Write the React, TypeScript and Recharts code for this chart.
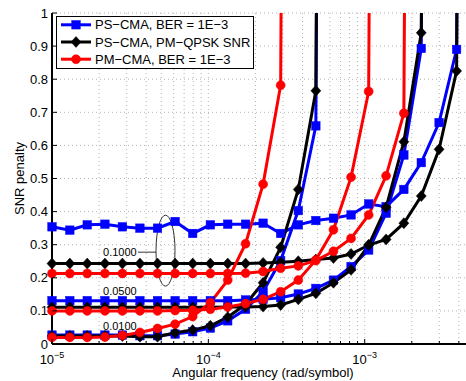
import React from 'react';
import { LineChart, Line, XAxis, YAxis, CartesianGrid, Legend, ReferenceDot } from 'recharts';

const FONT = '"Liberation Sans", Arial, Helvetica, sans-serif';

// angular frequency (rad/symbol)
const freq = [
  1.0e-5, 1.3e-5, 1.68e-5, 2.18e-5, 2.82e-5, 3.65e-5, 4.73e-5, 6.13e-5, 7.94e-5,
  1.03e-4, 1.33e-4, 1.73e-4, 2.24e-4, 2.9e-4, 3.76e-4, 4.87e-4, 6.31e-4, 8.18e-4,
  1.06e-3, 1.37e-3, 1.78e-3, 2.3e-3, 2.99e-3, 3.87e-3, 5.0e-3,
];

const OFF = 10; // penalty beyond the plotted range

// tolerance 0.0100
const psBer001 = [0.027, 0.027, 0.027, 0.027, 0.027, 0.025, 0.025, 0.030, 0.037, 0.048, 0.070, 0.105, 0.158, 0.252, 0.403, 0.659, OFF];
const psSnr001 = [0.024, 0.024, 0.024, 0.024, 0.024, 0.022, 0.022, 0.034, 0.042, 0.055, 0.081, 0.120, 0.185, 0.292, 0.467, 0.765, OFF];
const pmBer001 = [0.020, 0.020, 0.020, 0.021, 0.026, 0.035, 0.047, 0.060, 0.083, 0.125, 0.193, 0.303, 0.483, 0.782, OFF];
// tolerance 0.0500
const psBer005 = [0.131, 0.131, 0.131, 0.131, 0.131, 0.131, 0.131, 0.131, 0.131, 0.131, 0.131, 0.133, 0.135, 0.140, 0.151, 0.168, 0.193, 0.234, 0.284, 0.395, 0.571, 0.893, OFF];
const psSnr005 = [0.111, 0.111, 0.111, 0.111, 0.111, 0.111, 0.111, 0.111, 0.111, 0.111, 0.112, 0.112, 0.113, 0.118, 0.135, 0.153, 0.185, 0.224, 0.299, 0.413, 0.611, 0.940, OFF];
const pmBer005 = [0.100, 0.100, 0.100, 0.100, 0.100, 0.100, 0.100, 0.101, 0.102, 0.105, 0.112, 0.122, 0.135, 0.158, 0.193, 0.254, 0.345, 0.504, 0.763, OFF];
// tolerance 0.1000
const psBer010 = [0.354, 0.344, 0.360, 0.362, 0.354, 0.350, 0.350, 0.370, 0.334, 0.360, 0.362, 0.362, 0.365, 0.334, 0.360, 0.373, 0.380, 0.390, 0.423, 0.415, 0.467, 0.548, 0.669, 0.890, OFF];
const psSnr010 = [0.243, 0.243, 0.243, 0.243, 0.243, 0.243, 0.243, 0.243, 0.243, 0.243, 0.243, 0.243, 0.245, 0.247, 0.250, 0.255, 0.260, 0.272, 0.299, 0.316, 0.365, 0.447, 0.588, 0.825, OFF];
const pmBer010 = [0.213, 0.213, 0.213, 0.213, 0.213, 0.213, 0.213, 0.213, 0.213, 0.213, 0.213, 0.214, 0.219, 0.229, 0.236, 0.252, 0.280, 0.319, 0.390, 0.508, 0.697, OFF];

const xTicks = [
  1e-5, 2e-5, 3e-5, 4e-5, 5e-5, 6e-5, 7e-5, 8e-5, 9e-5,
  1e-4, 2e-4, 3e-4, 4e-4, 5e-4, 6e-4, 7e-4, 8e-4, 9e-4,
  1e-3, 2e-3, 3e-3, 4e-3, 5e-3,
];
const yTicks = [0, 0.1, 0.2, 0.3, 0.4, 0.5, 0.6, 0.7, 0.8, 0.9, 1];

const BLUE = '#0000ff';
const BLACK = '#000000';
const RED = '#ff0000';

const legendItems = [
  { label: 'PS\u2212CMA, BER = 1E\u22123', color: BLUE, marker: 'square' },
  { label: 'PS\u2212CMA, PM\u2212QPSK SNR', color: BLACK, marker: 'diamond' },
  { label: 'PM\u2212CMA, BER = 1E\u22123', color: RED, marker: 'circle' },
];

const series = [
  { key: 'psBer001', vals: psBer001, color: BLUE, marker: 'square' },
  { key: 'psBer005', vals: psBer005, color: BLUE, marker: 'square' },
  { key: 'psBer010', vals: psBer010, color: BLUE, marker: 'square' },
  { key: 'psSnr001', vals: psSnr001, color: BLACK, marker: 'diamond' },
  { key: 'psSnr005', vals: psSnr005, color: BLACK, marker: 'diamond' },
  { key: 'psSnr010', vals: psSnr010, color: BLACK, marker: 'diamond' },
  { key: 'pmBer001', vals: pmBer001, color: RED, marker: 'circle' },
  { key: 'pmBer005', vals: pmBer005, color: RED, marker: 'circle' },
  { key: 'pmBer010', vals: pmBer010, color: RED, marker: 'circle' },
];

const data = freq.map((x, i) => {
  const row: any = { x };
  series.forEach((s) => {
    const v = s.vals[i];
    row[s.key] = v === undefined ? null : v;
    row[s.key + '_m'] = v !== undefined && v <= 1 ? v : null;
  });
  return row;
});

function markerShape(marker: string, color: string, cx: number, cy: number, key?: string) {
  if (marker === 'square') {
    return <rect key={key} x={cx - 4.25} y={cy - 4.25} width={8.5} height={8.5} fill={color} stroke={color} strokeWidth={0.5} />;
  }
  if (marker === 'diamond') {
    return (
      <polygon
        key={key}
        points={`${cx},${cy - 5.5} ${cx + 5},${cy} ${cx},${cy + 5.5} ${cx - 5},${cy}`}
        fill={color}
        stroke={color}
        strokeWidth={0.5}
      />
    );
  }
  return <circle key={key} cx={cx} cy={cy} r={4.5} fill={color} stroke={color} strokeWidth={0.5} />;
}

const makeDot = (marker: string, color: string, id: string) => (p: any) => {
  const { cx, cy, index, value } = p;
  if (cx == null || cy == null || value == null || Number.isNaN(cy)) return <g key={`${id}-${index}`} />;
  return markerShape(marker, color, cx, cy, `${id}-${index}`);
};

const isDecade = (v: number) => {
  const lg = Math.log10(v);
  return Math.abs(lg - Math.round(lg)) < 1e-6;
};

const XTickBottom = (props: any) => {
  const { x, y, payload } = props;
  const v = payload.value;
  const major = isDecade(v);
  const exp = Math.round(Math.log10(v));
  return (
    <g>
      <line x1={x} x2={x} y1={y} y2={y - (major ? 5 : 3)} stroke="#000" strokeWidth={1} />
      {major && (
        <text x={x} y={y + 19.5} textAnchor="middle" fontSize={13} fontFamily={FONT} fill="#000">
          <tspan>10</tspan>
          <tspan dy={-6} fontSize={9}>{'\u2212' + Math.abs(exp)}</tspan>
        </text>
      )}
    </g>
  );
};

const XTickTop = (props: any) => {
  const { x, y, payload } = props;
  const major = isDecade(payload.value);
  return <line x1={x} x2={x} y1={y} y2={y + (major ? 5 : 3)} stroke="#000" strokeWidth={1} />;
};

const YTick = (props: any) => {
  const { x, y, payload } = props;
  const v = payload.value;
  const label = v === 0 ? '0' : v === 1 ? '1' : v.toFixed(1);
  return (
    <g>
      <line x1={x} x2={x + 5} y1={y} y2={y} stroke="#000" strokeWidth={1} />
      <text x={x - 4} y={y + 4.5} textAnchor="end" fontSize={13} fontFamily={FONT} fill="#000">
        {label}
      </text>
    </g>
  );
};

const LegendBox = () => (
  <svg width={199} height={54} style={{ display: 'block' }}>
    <rect x={0.5} y={0.5} width={197} height={52} fill="#fff" stroke="#000" strokeWidth={1} />
    {legendItems.map((it, i) => {
      const cy = 8.8 + i * 17.2;
      return (
        <g key={it.label}>
          <line x1={5} x2={35} y1={cy} y2={cy} stroke={it.color} strokeWidth={3} />
          {markerShape(it.marker, it.color, 20, cy)}
          <text x={39} y={cy + 4.6} fontSize={13} fontFamily={FONT} fill="#000">
            {it.label}
          </text>
        </g>
      );
    })}
  </svg>
);

const xLabel = (props: any) => {
  const vb = props.viewBox || {};
  return (
    <text x={vb.x + vb.width / 2} y={377} textAnchor="middle" fontSize={13} fontFamily={FONT} fill="#000">
      Angular frequency (rad/symbol)
    </text>
  );
};

const yLabel = (props: any) => {
  const vb = props.viewBox || {};
  const cy = vb.y + vb.height / 2;
  return (
    <text x={24} y={cy} transform={`rotate(-90, 24, ${cy})`} textAnchor="middle" fontSize={13} fontFamily={FONT} fill="#000">
      SNR penalty
    </text>
  );
};

const ellipseShape = (p: any) => {
  const { cx, cy } = p;
  if (cx == null || cy == null) return <g />;
  return (
    <g>
      <ellipse cx={cx} cy={cy} rx={9.5} ry={35.5} fill="none" stroke="#000" strokeWidth={0.8} />
      <line x1={cx - 27.5} x2={cx - 9.5} y1={cy + 1.5} y2={cy + 1.5} stroke="#000" strokeWidth={0.8} />
    </g>
  );
};

const textShape = (txt: string) => (p: any) => {
  const { cx, cy } = p;
  if (cx == null || cy == null) return <g />;
  return (
    <text x={cx} y={cy + 4} fontSize={11} fontFamily={FONT} fill="#000">
      {txt}
    </text>
  );
};

export default function App() {
  return (
    <div style={{ position: 'absolute', left: 0, top: 0, width: 466, height: 381, overflow: 'hidden', background: '#fff' }}>
      <LineChart
        width={490}
        height={381}
        data={data}
        margin={{ top: 13, right: 16, bottom: 0, left: 0 }}
        style={{ fontFamily: FONT }}
      >
        <CartesianGrid stroke="#b4b4b4" strokeDasharray="1 3" strokeWidth={1} />
        <XAxis
          dataKey="x"
          type="number"
          scale="log"
          domain={[1e-5, 5e-3]}
          ticks={xTicks}
          interval={0}
          height={37}
          tickSize={0}
          tickMargin={0}
          tickLine={false}
          tick={XTickBottom}
          axisLine={{ stroke: '#000', strokeWidth: 2 }}
          label={xLabel}
        />
        <XAxis
          xAxisId="top"
          orientation="top"
          dataKey="x"
          type="number"
          scale="log"
          domain={[1e-5, 5e-3]}
          ticks={xTicks}
          interval={0}
          height={0}
          tickSize={0}
          tickMargin={0}
          tickLine={false}
          tick={XTickTop}
          axisLine={{ stroke: '#000', strokeWidth: 1.5 }}
        />
        <YAxis
          type="number"
          domain={[0, 1]}
          ticks={yTicks}
          interval={0}
          allowDataOverflow
          width={52}
          tickSize={0}
          tickMargin={0}
          tickLine={false}
          tick={YTick}
          axisLine={{ stroke: '#000', strokeWidth: 2 }}
          label={yLabel}
        />
        <YAxis yAxisId="m" type="number" domain={[0, 1]} hide />
        {series.flatMap((s) => [
          <Line
            key={s.key}
            type="linear"
            dataKey={s.key}
            stroke={s.color}
            strokeWidth={3}
            dot={false}
            activeDot={false}
            isAnimationActive={false}
            legendType="none"
          />,
          <Line
            key={s.key + '_m'}
            yAxisId="m"
            type="linear"
            dataKey={s.key + '_m'}
            stroke="none"
            strokeWidth={0}
            dot={makeDot(s.marker, s.color, s.key)}
            activeDot={false}
            isAnimationActive={false}
            legendType="none"
          />,
        ])}
        <ReferenceDot x={5.32e-5} y={0.282} r={0} shape={ellipseShape} ifOverflow="visible" />
        <ReferenceDot x={2.12e-5} y={0.279} r={0} shape={textShape('0.1000')} ifOverflow="visible" />
        <ReferenceDot x={2.12e-5} y={0.16} r={0} shape={textShape('0.0500')} ifOverflow="visible" />
        <ReferenceDot x={2.12e-5} y={0.055} r={0} shape={textShape('0.0100')} ifOverflow="visible" />
        <Legend
          layout="horizontal"
          verticalAlign="middle"
          align="center"
          content={LegendBox}
          wrapperStyle={{ left: 56, top: 16, width: 199, height: 54 }}
        />
      </LineChart>
    </div>
  );
}
